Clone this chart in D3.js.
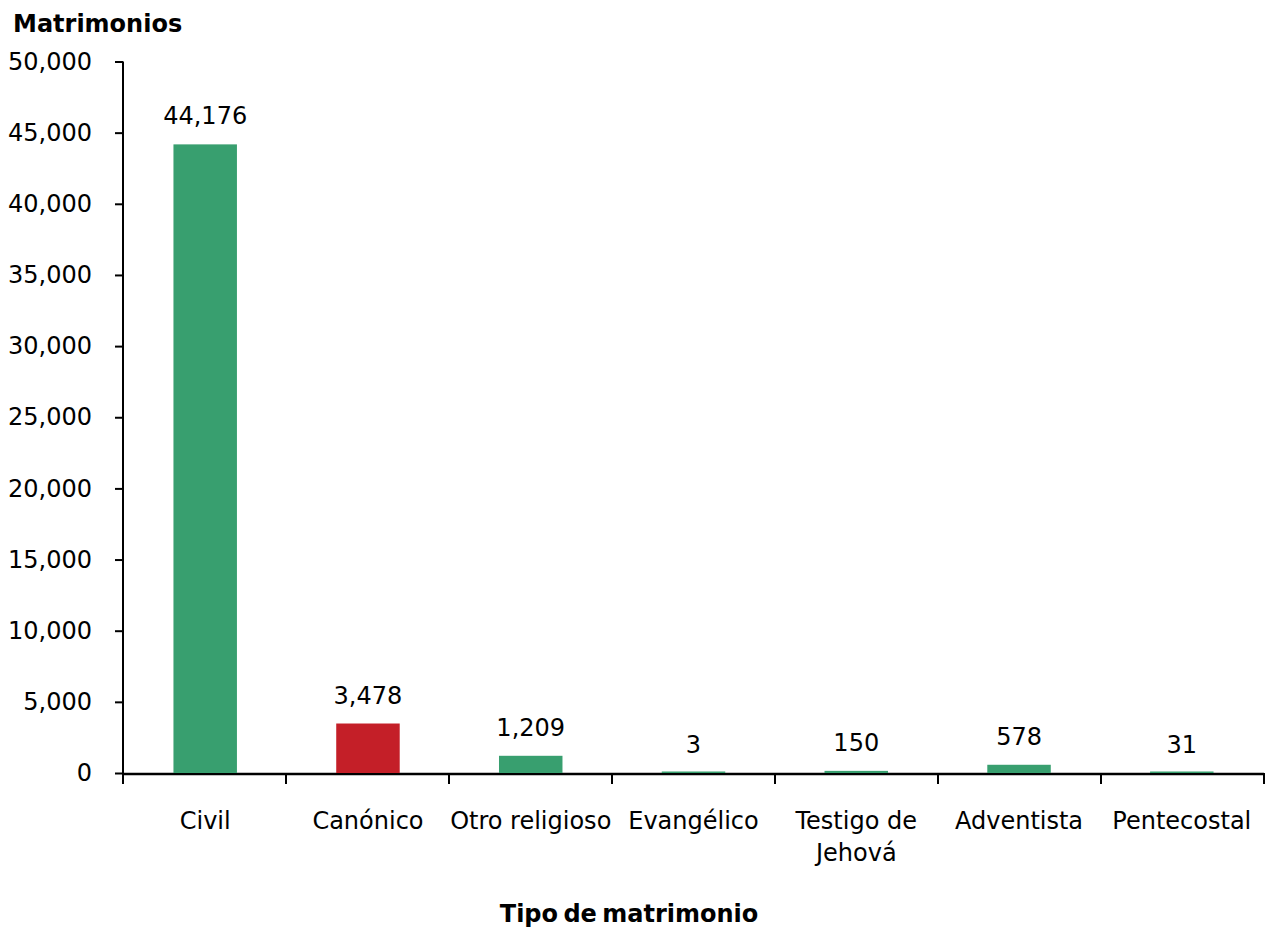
<!DOCTYPE html>
<html lang="es">
<head>
<meta charset="UTF-8">
<title>Matrimonios por tipo</title>
<style>
  body { margin: 0; background: #fff; }
  svg text { font-family: "DejaVu Sans", sans-serif; fill: #000; }
</style>
</head>
<body>
<svg width="1265" height="931"></svg>
<script src="https://cdnjs.cloudflare.com/ajax/libs/d3/7.8.5/d3.min.js"></script>
<script>
// datos
const categorias = ['Civil', 'Canónico', 'Otro religioso', 'Evangélico', 'Testigo de\nJehová', 'Adventista', 'Pentecostal'];
const valores = [44176, 3478, 1209, 3, 150, 578, 31];
const colores = ['#389f6f', '#c41f28', '#389f6f', '#389f6f', '#389f6f', '#389f6f', '#389f6f'];
const ticksY = [0, 5000, 10000, 15000, 20000, 25000, 30000, 35000, 40000, 45000, 50000];

const svg = d3.select('svg');
const margin = { left: 123, right: 1, top: 61.5, bottom: 158 };
const W = 1265, H = 931;

const x = d3.scaleBand()
    .domain(categorias)
    .range([margin.left, W - margin.right])
    .paddingInner(0.61)
    .paddingOuter(0.31);

const y = d3.scaleLinear().domain([0, 50000]).range([H - margin.bottom, margin.top]);
const fmt = d3.format(',');

// eje X (linea base y separadores entre categorias)
const xs = d3.range(categorias.length + 1).map(i => margin.left + i * (W - margin.right - margin.left) / categorias.length);
const gx = svg.append('g');
gx.append('line')
    .attr('x1', margin.left).attr('x2', W - margin.right)
    .attr('y1', y(0) + 1).attr('y2', y(0) + 1)
    .attr('stroke', '#000').attr('stroke-width', 2.5);
gx.selectAll('line.sep')
    .data(xs)
    .join('line')
    .attr('class', 'sep')
    .attr('x1', d => d).attr('x2', d => d)
    .attr('y1', y(0)).attr('y2', y(0) + 11)
    .attr('stroke', '#000').attr('stroke-width', 2);

// barras (minimo 1.5px para que se vean los valores muy pequenos)
svg.append('g')
    .selectAll('rect')
    .data(valores)
    .join('rect')
    .attr('x', (d, i) => x(categorias[i]))
    .attr('width', x.bandwidth())
    .attr('y', d => Math.min(y(d), y(0) - 1.5))
    .attr('height', d => Math.max(y(0) - y(d), 1.5))
    .attr('fill', (d, i) => colores[i]);

// etiquetas de valor
svg.append('g')
    .selectAll('text')
    .data(valores)
    .join('text')
    .attr('x', (d, i) => x(categorias[i]) + x.bandwidth() / 2)
    .attr('y', d => y(d) - 20)
    .attr('text-anchor', 'middle')
    .attr('font-size', 24)
    .text(d => fmt(d));

// eje Y
const gy = svg.append('g')
    .attr('transform', `translate(${margin.left},0)`)
    .call(d3.axisLeft(y).tickValues(ticksY).tickFormat(fmt).tickSize(8).tickPadding(23));
gy.select('.domain').attr('stroke', '#000').attr('stroke-width', 2).attr('d', `M0,${y(50000)}V${y(0) + 2}`);
gy.selectAll('.tick line').attr('stroke-width', 2);
gy.selectAll('.tick text').attr('font-size', 24).style('font-family', null);

// etiquetas de categoria
gx.selectAll('text.cat')
    .data(categorias)
    .join('text')
    .attr('class', 'cat')
    .attr('text-anchor', 'middle')
    .attr('font-size', 24)
    .attr('x', d => x(d) + x.bandwidth() / 2)
    .attr('y', y(0) + 56)
    .each(function (d) {
        const cx = d3.select(this).attr('x');
        d3.select(this).selectAll('tspan')
            .data(d.split('\n'))
            .join('tspan')
            .attr('x', cx)
            .attr('dy', (l, i) => i === 0 ? 0 : 32)
            .text(l => l);
    });

// titulos
svg.append('text')
    .attr('x', 13).attr('y', 32)
    .attr('font-size', 24).attr('font-weight', 'bold')
    .text('Matrimonios');

svg.append('text')
    .attr('x', 629).attr('y', 922)
    .attr('text-anchor', 'middle')
    .attr('font-size', 24).attr('font-weight', 'bold')
    .attr('word-spacing', -3)
    .text('Tipo de matrimonio');
</script>
</body>
</html>
